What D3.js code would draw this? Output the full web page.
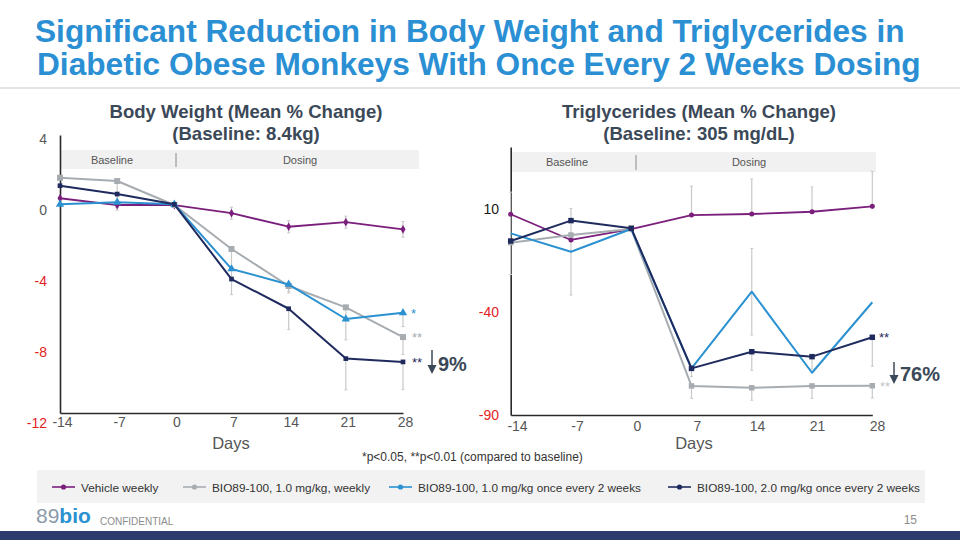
<!DOCTYPE html>
<html>
<head>
<meta charset="utf-8">
<script src="https://cdn.jsdelivr.net/npm/d3@7"></script>
<style>
  html, body { margin: 0; padding: 0; background: #fff; }
  svg { display: block; font-family: "Liberation Sans", Arial, sans-serif; }
</style>
</head>
<body>
<svg id="chart" width="960" height="540"></svg>
<script>
// ---------------- DATA ----------------
const days = [-14, -7, 0, 7, 14, 21, 28];
const seriesNames = [
  "Vehicle weekly",
  "BIO89-100, 1.0 mg/kg, weekly",
  "BIO89-100, 1.0 mg/kg once every 2 weeks",
  "BIO89-100, 2.0 mg/kg once every 2 weeks"
];
// Body weight, mean % change
const bwVehicle   = [0.36, -0.03, -0.03, -0.50, -1.28, -1.02, -1.43];
const bwWeekly1   = [1.54, 1.35, -0.03, -2.56, -4.69, -5.92, -7.63];
const bwBiweekly1 = [0.01, 0.13, 0.01, -3.71, -4.60, -6.59, -6.23];
const bwBiweekly2 = [1.08, 0.60, 0.01, -4.29, -6.00, -8.87, -9.06];
const bwVehicleErr   = [0, 0.3, 0, 0.35, 0.35, 0.35, 0.45];
const bwWeekly1Err   = [0, 1.3, 0, 1.0, 0.4, 0.6, 1.0];
const bwBiweekly1Err = [0, 0.3, 0, 0.5, 0.4, 1.2, 0.8];
const bwBiweekly2Err = [0, 0.4, 0, 0.9, 1.2, 1.8, 1.6];
// Triglycerides, mean % change
const tgVehicle   = [7.4, -5.1, 0.2, 7.0, 7.5, 8.6, 11.2];
const tgWeekly1   = [-6.4, -2.7, 0.2, -75.9, -76.8, -75.9, -75.8];
const tgBiweekly1 = [-1.9, -10.8, 0.2, -67.4, -30.2, -69.5, -35.3];
const tgBiweekly2 = [-5.6, 4.3, 0.6, -67.4, -59.3, -61.7, -52.3];
const tgVehicleErr   = [0, 0, 0, 14, 17, 12, 17];
const tgWeekly1Err   = [0, 0, 0, 6, 6, 6, 6];
const tgBiweekly1Err = [20, 21, 0, 0, 21, 0, 0];
const tgBiweekly2Err = [0, 0, 0, 4, 9, 6, 14];
// tick labels
const bwTicks = [4, 0, -4, -8, -12];
const tgTicks = [10, -40, -90];
const dayTicks = [-14, -7, 0, 7, 14, 21, 28];

// ---------------- STYLE ----------------
const colors = ["#7b1f7c", "#a7acb1", "#2b91d0", "#1f2b5e"];
const titleBlue = "#2b8fd4";
const darkText = "#3b4857";
const red = "#e3231f";
const fmt = d => String(d);

const svg = d3.select("#chart");
svg.append("rect").attr("width", 960).attr("height", 540).attr("fill", "#fff");

function fitText(sel, target) {
  const w = sel.node().getComputedTextLength();
  const fs = parseFloat(sel.attr("font-size"));
  sel.attr("font-size", (fs * target / w).toFixed(2));
}

// ---------------- TITLE ----------------
const t1 = svg.append("text").attr("x", 35).attr("y", 42).attr("font-size", 29)
  .attr("font-weight", "bold").attr("fill", titleBlue)
  .text("Significant Reduction in Body Weight and Triglycerides in");
fitText(t1, 870);
const t2 = svg.append("text").attr("x", 37).attr("y", 75).attr("font-size", 29)
  .attr("font-weight", "bold").attr("fill", titleBlue)
  .text("Diabetic Obese Monkeys With Once Every 2 Weeks Dosing");
fitText(t2, 884);
svg.append("rect").attr("x", 0).attr("y", 87).attr("width", 960).attr("height", 2).attr("fill", "#e3e3e3");

// ---------------- PANELS ----------------
function drawPanel(cfg) {
  const g = svg.append("g");
  const x = d3.scaleLinear().domain([-14, 28]).range(cfg.xRange);
  const y = d3.scaleLinear().domain(cfg.yDomain).range(cfg.yRange);
  const xLab = d3.scaleLinear().domain([-14, 28]).range(cfg.xLabRange);
  const yLab = d3.scaleLinear().domain(cfg.yDomain).range(cfg.yLabRange);
  const yBottom = Math.max(...cfg.yRange);

  // titles
  cfg.titles.forEach((t, i) => {
    const tt = g.append("text").attr("x", cfg.titleX).attr("y", cfg.titleY[i])
      .attr("text-anchor", "middle").attr("font-size", 19).attr("font-weight", "bold")
      .attr("fill", darkText).text(t);
    if (i === 0) fitText(tt, cfg.titleW);
    else tt.attr("font-size", g.select("text").attr("font-size"));
  });

  // Baseline / Dosing band
  g.append("rect").attr("x", cfg.band[0]).attr("y", cfg.band[1])
    .attr("width", cfg.band[2] - cfg.band[0]).attr("height", cfg.band[3] - cfg.band[1])
    .attr("fill", "#f1f1f1");
  g.append("line").attr("x1", cfg.sep).attr("x2", cfg.sep)
    .attr("y1", cfg.band[1] + 3).attr("y2", cfg.band[3] - 2)
    .attr("stroke", "#8a8a8a").attr("stroke-width", 1);
  const bandMid = (cfg.band[1] + cfg.band[3]) / 2 + 4;
  g.append("text").attr("x", cfg.bandText[0]).attr("y", bandMid).attr("text-anchor", "middle")
    .attr("font-size", 11).attr("fill", "#555").text("Baseline");
  g.append("text").attr("x", cfg.bandText[1]).attr("y", bandMid).attr("text-anchor", "middle")
    .attr("font-size", 11).attr("fill", "#555").text("Dosing");

  // axis lines
  const yAxis = g.append("g").attr("transform", `translate(${cfg.xRange[0]},0)`)
    .call(d3.axisLeft(y).tickValues([]).tickSizeOuter(0));
  const xAxis = g.append("g").attr("transform", `translate(0,${yBottom})`)
    .call(d3.axisBottom(x).tickValues([]).tickSizeOuter(0));
  [yAxis, xAxis].forEach(a => a.select(".domain").attr("stroke", "#2a2a2a").attr("stroke-width", 1.6));

  // tick labels
  const yl = g.append("g").attr("transform", `translate(${cfg.yLabX},0)`)
    .call(d3.axisLeft(yLab).tickValues(cfg.ticks).tickSize(0).tickPadding(0).tickFormat(fmt));
  yl.select(".domain").remove();
  yl.selectAll("text").attr("font-size", 14).attr("font-family", "Liberation Sans, Arial, sans-serif")
    .attr("fill", d => d < 0 ? red : cfg.posColor);
  const xl = g.append("g").attr("transform", `translate(0,${yBottom})`)
    .call(d3.axisBottom(xLab).tickValues(dayTicks).tickSize(0).tickPadding(cfg.xPad).tickFormat(fmt));
  xl.select(".domain").remove();
  xl.selectAll("text").attr("font-size", 14).attr("font-family", "Liberation Sans, Arial, sans-serif").attr("fill", "#555");
  g.append("text").attr("x", cfg.daysX).attr("y", 449).attr("text-anchor", "middle")
    .attr("font-size", 16.5).attr("fill", "#555").text("Days");

  // error bars
  cfg.series.forEach((s) => {
    s.values.forEach((v, i) => {
      const e = s.err[i];
      if (!e) return;
      const top = s.dir === "down" ? v : v + e;
      const bot = s.dir === "up" ? v : v - e;
      const xx = x(days[i]);
      g.append("line").attr("x1", xx).attr("x2", xx).attr("y1", y(top)).attr("y2", y(bot))
        .attr("stroke", "#c9c9c9").attr("stroke-width", 1.2);
      [top, bot].forEach(b => {
        if (b === v) return;
        g.append("line").attr("x1", xx - 1.5).attr("x2", xx + 1.5).attr("y1", y(b)).attr("y2", y(b))
          .attr("stroke", "#c9c9c9").attr("stroke-width", 1);
      });
    });
  });

  // lines + markers
  const line = d3.line().x((d, i) => x(days[i])).y(d => y(d));
  cfg.series.forEach((s) => {
    g.append("path").datum(s.values).attr("d", line).attr("fill", "none")
      .attr("stroke", s.color).attr("stroke-width", s.width).attr("stroke-linejoin", "round");
    if (s.symbol) {
      g.selectAll(null).data(s.values).join("path")
        .attr("transform", (d, i) => `translate(${x(days[i])},${y(d)})`)
        .attr("d", d3.symbol().type(s.symbol).size(s.size))
        .attr("fill", s.color);
    }
  });

  // annotations
  cfg.stars.forEach(st => {
    g.append("text").attr("x", st.x).attr("y", y(st.v) + 5).attr("font-size", 13)
      .attr("fill", st.color).text(st.t);
  });
  const ar = cfg.arrow;
  g.append("line").attr("x1", ar.x).attr("x2", ar.x).attr("y1", ar.y1).attr("y2", ar.y2 - 8)
    .attr("stroke", darkText).attr("stroke-width", 1.5);
  g.append("path").attr("d", `M${ar.x - 4.5},${ar.y2 - 9} L${ar.x + 4.5},${ar.y2 - 9} L${ar.x},${ar.y2} Z`)
    .attr("fill", darkText);
  g.append("text").attr("x", ar.tx).attr("y", ar.ty).attr("font-size", 20).attr("font-weight", "bold")
    .attr("fill", darkText).text(ar.label);
}

drawPanel({
  xRange: [60, 403], yDomain: [4, -12], yRange: [135, 413],
  xLabRange: [62, 405], yLabRange: [139, 423], yLabX: 47, xPad: 4,
  ticks: bwTicks, posColor: "#595959",
  titles: ["Body Weight (Mean % Change)", "(Baseline: 8.4kg)"], titleX: 246, titleY: [118, 140], titleW: 273,
  band: [61, 150, 419, 169], sep: 176, bandText: [112, 300], daysX: 231,
  series: [
    { values: bwVehicle, err: bwVehicleErr, dir: "both", color: colors[0], width: 1.8, symbol: d3.symbolDiamond, size: 22 },
    { values: bwWeekly1, err: bwWeekly1Err, dir: "down", color: colors[1], width: 2, symbol: d3.symbolSquare, size: 36 },
    { values: bwBiweekly1, err: bwBiweekly1Err, dir: "down", color: colors[2], width: 2, symbol: d3.symbolTriangle, size: 30 },
    { values: bwBiweekly2, err: bwBiweekly2Err, dir: "down", color: colors[3], width: 2, symbol: d3.symbolSquare, size: 22 }
  ],
  stars: [
    { x: 411, v: bwBiweekly1[6], t: "*", color: colors[2] },
    { x: 412, v: bwWeekly1[6], t: "**", color: colors[1] },
    { x: 412, v: bwBiweekly2[6], t: "**", color: colors[3] }
  ],
  arrow: { x: 432, y1: 350, y2: 374, tx: 438, ty: 371, label: "9%" }
});

drawPanel({
  xRange: [510.7, 872.3], yDomain: [-90, 40], yRange: [415, 147],
  xLabRange: [517, 877], yLabRange: [415, 147], yLabX: 499, xPad: 6,
  ticks: tgTicks, posColor: "#1a1a1a",
  titles: ["Triglycerides (Mean % Change)", "(Baseline: 305 mg/dL)"], titleX: 699, titleY: [118, 140], titleW: 274,
  band: [512, 152, 876, 172], sep: 636, bandText: [567, 749], daysX: 694,
  series: [
    { values: tgVehicle, err: tgVehicleErr, dir: "up", color: colors[0], width: 1.8, symbol: d3.symbolCircle, size: 20 },
    { values: tgWeekly1, err: tgWeekly1Err, dir: "down", color: colors[1], width: 2, symbol: d3.symbolSquare, size: 30 },
    { values: tgBiweekly1, err: tgBiweekly1Err, dir: "both", color: colors[2], width: 2, symbol: null, size: 0 },
    { values: tgBiweekly2, err: tgBiweekly2Err, dir: "down", color: colors[3], width: 2, symbol: d3.symbolSquare, size: 30 }
  ],
  stars: [
    { x: 879, v: tgBiweekly2[6], t: "**", color: colors[3] },
    { x: 880, v: tgWeekly1[6], t: "**", color: "#c0c4c8" }
  ],
  arrow: { x: 894, y1: 362, y2: 384, tx: 900, ty: 381, label: "76%" }
});

// footnote
svg.append("text").attr("x", 362).attr("y", 461).attr("font-size", 12).attr("fill", "#333")
  .text("*p<0.05, **p<0.01 (compared to baseline)");

// ---------------- LEGEND ----------------
const legendX = [52, 183, 389, 668];
const lg = svg.append("g");
lg.append("rect").attr("x", 37).attr("y", 470).attr("width", 888).attr("height", 33).attr("fill", "#f2f2f2");
seriesNames.forEach((name, i) => {
  const x0 = legendX[i];
  lg.append("line").attr("x1", x0).attr("x2", x0 + 23).attr("y1", 487).attr("y2", 487)
    .attr("stroke", colors[i]).attr("stroke-width", 1.6);
  lg.append("circle").attr("cx", x0 + 11.5).attr("cy", 487).attr("r", 2.6).attr("fill", colors[i]);
  lg.append("text").attr("x", x0 + 29).attr("y", 491.5).attr("font-size", 11.8).attr("fill", "#333").text(name);
});

// ---------------- FOOTER ----------------
const logo = svg.append("text").attr("x", 36).attr("y", 523).attr("font-size", 21);
logo.append("tspan").attr("fill", "#8c9bab").attr("font-weight", "normal").text("89");
logo.append("tspan").attr("fill", "#2b91d0").attr("font-weight", "bold").text("bio");
svg.append("text").attr("x", 100).attr("y", 525).attr("font-size", 10).attr("fill", "#8c8c8c").text("CONFIDENTIAL");
svg.append("text").attr("x", 917).attr("y", 524).attr("text-anchor", "end").attr("font-size", 12).attr("fill", "#8c8c8c").text("15");
svg.append("rect").attr("x", 0).attr("y", 531).attr("width", 960).attr("height", 9).attr("fill", "#2c3a6c");
</script>
</body>
</html>
